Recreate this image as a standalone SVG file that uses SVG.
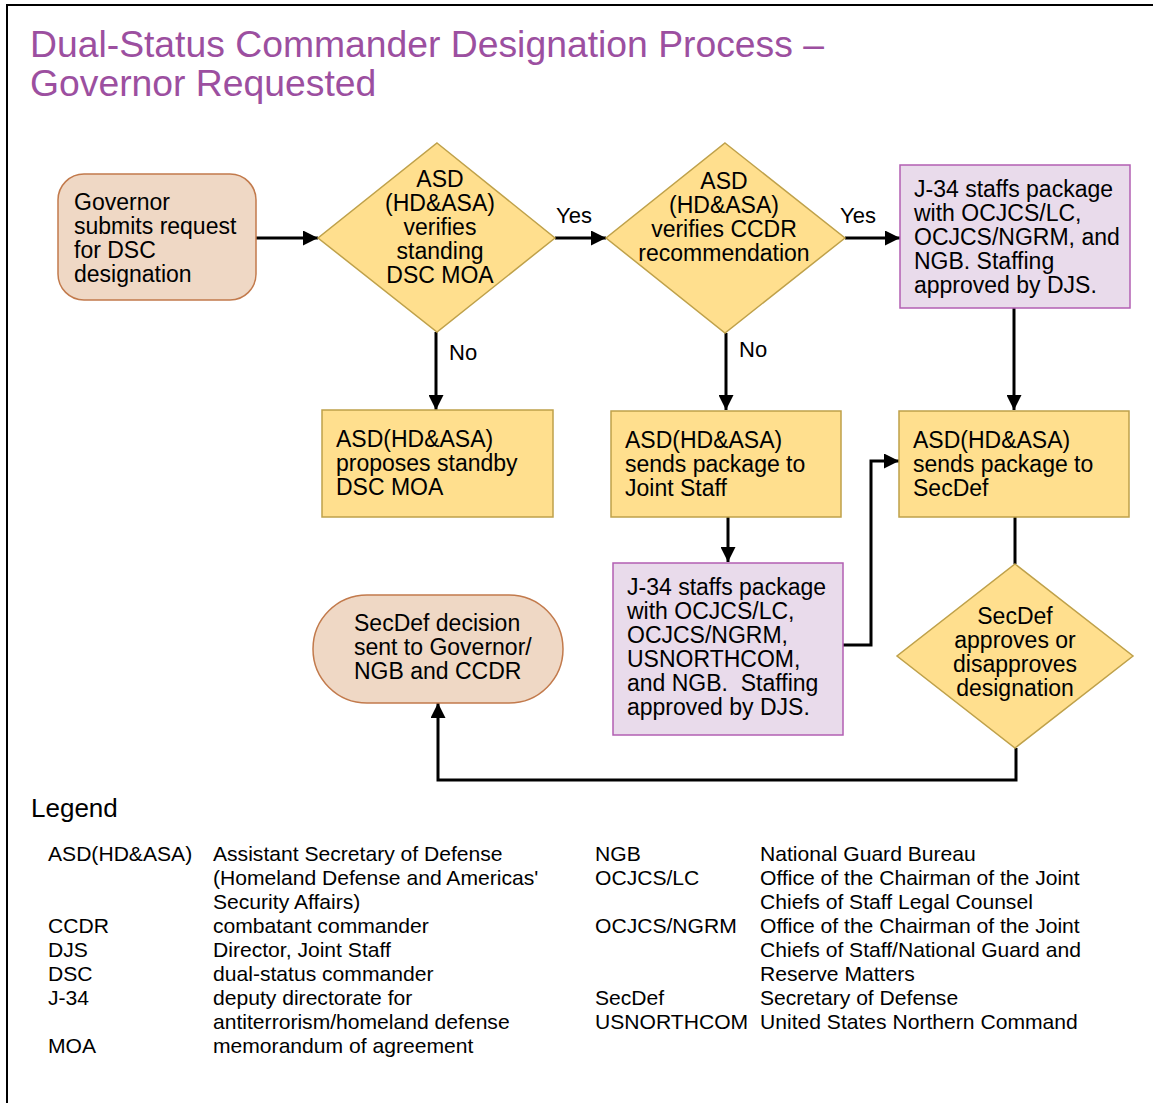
<svg xmlns="http://www.w3.org/2000/svg" width="1153" height="1103" viewBox="0 0 1153 1103">
<style>
text{font-family:"Liberation Sans",Arial,sans-serif;fill:#000}
.t{font-size:23px}
.c{text-anchor:middle}
.lbl{font-size:22px}
.lg{font-size:21.1px}
.title{font-size:37.3px;fill:#9C4FA0}
.yel{fill:#FFDF8E;stroke:#BFA14A;stroke-width:1.5}
.pur{fill:#E9DBEB;stroke:#B25FB3;stroke-width:1.5}
.tan{fill:#EFD8C5;stroke:#C27A4C;stroke-width:1.5}
.con{fill:none;stroke:#000;stroke-width:3}
.pre{white-space:pre}
</style>
<defs>
<marker id="ah" viewBox="0 0 10 10" refX="10" refY="5" markerWidth="5" markerHeight="5" markerUnits="strokeWidth" orient="auto">
<path d="M0,0 L10,5 L0,10 z" fill="#000"/>
</marker>
</defs>
<rect width="1153" height="1103" fill="#fff"/>
<path d="M7,1103 V5 H1153" fill="none" stroke="#000" stroke-width="2"/>
<g id="title">
<text class="title" x="30" y="57">Dual-Status Commander Designation Process –</text>
<text class="title" x="30" y="96">Governor Requested</text>
</g>
<g id="connectors">
<path class="con" d="M256,238 H318" marker-end="url(#ah)"/>
<path class="con" d="M555,238 H606" marker-end="url(#ah)"/>
<path class="con" d="M845,238 H900" marker-end="url(#ah)"/>
<path class="con" d="M436,332 V410" marker-end="url(#ah)"/>
<path class="con" d="M726,333 V410" marker-end="url(#ah)"/>
<path class="con" d="M1014,308 V410" marker-end="url(#ah)"/>
<path class="con" d="M728,517 V562" marker-end="url(#ah)"/>
<path class="con" d="M843,645 H871 V461 H899" marker-end="url(#ah)"/>
<path class="con" d="M1015,517 V564"/>
<path class="con" d="M1016,748 V780 H438 V703" marker-end="url(#ah)"/>
<text class="lbl" x="556" y="223">Yes</text>
<text class="lbl" x="840" y="223">Yes</text>
<text class="lbl" x="449" y="360">No</text>
<text class="lbl" x="739" y="357">No</text>
</g>
<g id="governor">
<rect class="tan" x="58" y="174" width="198" height="126" rx="26"/>
<text class="t" x="74" y="210">Governor</text>
<text class="t" x="74" y="234">submits request</text>
<text class="t" x="74" y="258">for DSC</text>
<text class="t" x="74" y="282">designation</text>
</g>
<g id="decision1">
<polygon class="yel" points="437,143 555,238 437,332 318,238"/>
<text class="t c" x="440" y="187">ASD</text>
<text class="t c" x="440" y="211">(HD&amp;ASA)</text>
<text class="t c" x="440" y="235">verifies</text>
<text class="t c" x="440" y="259">standing</text>
<text class="t c" x="440" y="283">DSC MOA</text>
</g>
<g id="decision2">
<polygon class="yel" points="725,143 845,238 725,333 606,238"/>
<text class="t c" x="724" y="189">ASD</text>
<text class="t c" x="724" y="213">(HD&amp;ASA)</text>
<text class="t c" x="724" y="237">verifies CCDR</text>
<text class="t c" x="724" y="261">recommendation</text>
</g>
<g id="j34a">
<rect class="pur" x="900" y="165" width="230" height="143"/>
<text class="t" x="914" y="197">J-34 staffs package</text>
<text class="t" x="914" y="221">with OCJCS/LC,</text>
<text class="t" x="914" y="245">OCJCS/NGRM, and</text>
<text class="t" x="914" y="269">NGB. Staffing</text>
<text class="t" x="914" y="293">approved by DJS.</text>
</g>
<g id="standby">
<rect class="yel" x="322" y="410" width="231" height="107"/>
<text class="t" x="336" y="447">ASD(HD&amp;ASA)</text>
<text class="t" x="336" y="471">proposes standby</text>
<text class="t" x="336" y="495">DSC MOA</text>
</g>
<g id="toJointStaff">
<rect class="yel" x="611" y="411" width="230" height="106"/>
<text class="t" x="625" y="448">ASD(HD&amp;ASA)</text>
<text class="t" x="625" y="472">sends package to</text>
<text class="t" x="625" y="496">Joint Staff</text>
</g>
<g id="toSecDef">
<rect class="yel" x="899" y="411" width="230" height="106"/>
<text class="t" x="913" y="448">ASD(HD&amp;ASA)</text>
<text class="t" x="913" y="472">sends package to</text>
<text class="t" x="913" y="496">SecDef</text>
</g>
<g id="j34b">
<rect class="pur" x="613" y="563" width="230" height="172"/>
<text class="t" x="627" y="595">J-34 staffs package</text>
<text class="t" x="627" y="619">with OCJCS/LC,</text>
<text class="t" x="627" y="643">OCJCS/NGRM,</text>
<text class="t" x="627" y="667">USNORTHCOM,</text>
<text class="t pre" x="627" y="691">and NGB.  Staffing</text>
<text class="t" x="627" y="715">approved by DJS.</text>
</g>
<g id="decision3">
<polygon class="yel" points="1015,564 1133,656 1015,748 897,656"/>
<text class="t c" x="1015" y="624">SecDef</text>
<text class="t c" x="1015" y="648">approves or</text>
<text class="t c" x="1015" y="672">disapproves</text>
<text class="t c" x="1015" y="696">designation</text>
</g>
<g id="decisionSent">
<rect class="tan" x="313" y="595" width="250" height="108" rx="54"/>
<text class="t" x="354" y="631">SecDef decision</text>
<text class="t" x="354" y="655">sent to Governor/</text>
<text class="t" x="354" y="679">NGB and CCDR</text>
</g>
<g id="legend">
<text x="31" y="817" font-size="26">Legend</text>
<g class="lg">
<text x="48" y="861">ASD(HD&amp;ASA)</text>
<text x="213" y="861">Assistant Secretary of Defense</text>
<text x="213" y="885">(Homeland Defense and Americas'</text>
<text x="213" y="909">Security Affairs)</text>
<text x="48" y="933">CCDR</text>
<text x="213" y="933">combatant commander</text>
<text x="48" y="957">DJS</text>
<text x="213" y="957">Director, Joint Staff</text>
<text x="48" y="981">DSC</text>
<text x="213" y="981">dual-status commander</text>
<text x="48" y="1005">J-34</text>
<text x="213" y="1005">deputy directorate for</text>
<text x="213" y="1029">antiterrorism/homeland defense</text>
<text x="48" y="1053">MOA</text>
<text x="213" y="1053">memorandum of agreement</text>
<text x="595" y="861">NGB</text>
<text x="760" y="861">National Guard Bureau</text>
<text x="595" y="885">OCJCS/LC</text>
<text x="760" y="885">Office of the Chairman of the Joint</text>
<text x="760" y="909">Chiefs of Staff Legal Counsel</text>
<text x="595" y="933">OCJCS/NGRM</text>
<text x="760" y="933">Office of the Chairman of the Joint</text>
<text x="760" y="957">Chiefs of Staff/National Guard and</text>
<text x="760" y="981">Reserve Matters</text>
<text x="595" y="1005">SecDef</text>
<text x="760" y="1005">Secretary of Defense</text>
<text x="595" y="1029">USNORTHCOM</text>
<text x="760" y="1029">United States Northern Command</text>
</g>
</g>
</svg>
